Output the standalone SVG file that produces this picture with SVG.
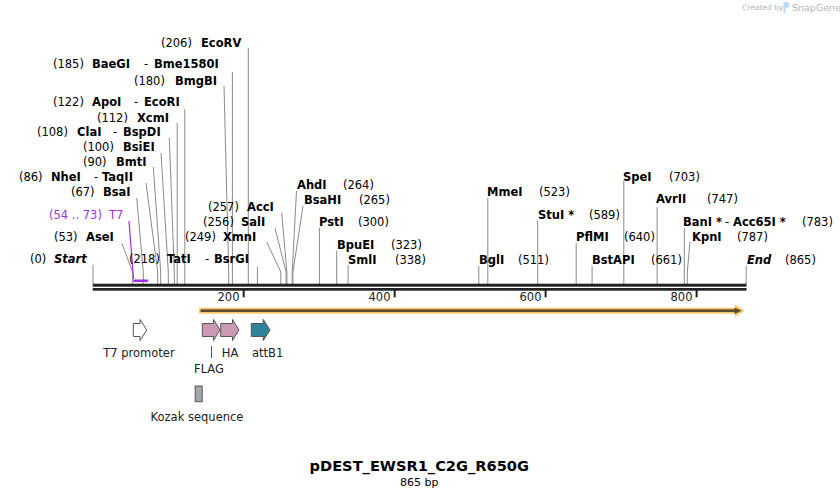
<svg xmlns="http://www.w3.org/2000/svg" width="840" height="497" viewBox="0 0 840 497">
<style>
  text { font-family: "DejaVu Sans", Verdana, sans-serif; font-size: 11.5px; fill: #000; }
  .n { font-weight: bold; }
  .bi { font-weight: bold; font-style: italic; }
  .t7 { fill: #a02ff0; }
  .ft { fill: #222; }
  .tick { fill: #222; }
  .cl { fill: none; stroke: #8a8a8a; stroke-width: 1; }
  .feat { stroke: #555; stroke-width: 1; }
  .wm { fill: #b4b4b4; }
</style>
<rect width="840" height="497" fill="#fff"/>

<!-- watermark -->
<g id="watermark">
  <text class="wm" x="742" y="10" style="font-size:7.5px">Created by</text>
  <path d="M783.5,2 h3 a3,3 0 0 1 0,6 h-1 v5 h-2 z" fill="#b9dcf2"/>
  <text class="wm" x="792" y="11" style="font-size:9.5px">SnapGene</text>
</g>

<!-- connectors -->
<g id="connectors">
  <path class="cl" d="M248.3,48 V284"/>
  <path class="cl" d="M232.4,72 V284"/>
  <path class="cl" d="M224,86 L228.7,272 V284"/>
  <path class="cl" d="M184.8,109 V284"/>
  <path class="cl" d="M177.2,123 V284"/>
  <path class="cl" d="M169.3,138 L174.3,272 V284"/>
  <path class="cl" d="M161,153 L168.3,272 V284"/>
  <path class="cl" d="M153.3,167 L160.7,272 V284"/>
  <path class="cl" d="M146,183 L157.7,272 V284"/>
  <path class="cl" d="M136.7,198 L143.3,272 V284"/>
  <path class="cl" d="M121.7,243 L132.7,272 V284"/>
  <path class="cl" d="M93,265 V284"/>
  <path class="cl" d="M257.4,266.5 V284"/>
  <path class="cl" d="M266.7,242 L280.8,272 V284"/>
  <path class="cl" d="M275,228 L286.1,272 V284"/>
  <path class="cl" d="M281.7,213 L286.9,272 V284"/>
  <path class="cl" d="M296.5,191 L292.2,272 V284"/>
  <path class="cl" d="M303,206 L292.9,272 V284"/>
  <path class="cl" d="M319.4,228 V284"/>
  <path class="cl" d="M336.7,251 V284"/>
  <path class="cl" d="M348.1,265 V284"/>
  <path class="cl" d="M478.8,266 V284"/>
  <path class="cl" d="M487.8,198 V284"/>
  <path class="cl" d="M537.7,221 V284"/>
  <path class="cl" d="M576.2,243 V284"/>
  <path class="cl" d="M592.1,266 V284"/>
  <path class="cl" d="M623.8,181 V284"/>
  <path class="cl" d="M657.1,207 V284"/>
  <path class="cl" d="M684.3,228 V284"/>
  <path class="cl" d="M690,242 L687.3,272 V284"/>
  <path class="cl" d="M746.2,266 V284"/>
  <!-- T7 primer connector -->
  <path d="M129,221 L133.5,279" fill="none" stroke="#a02ff0" stroke-width="1.2"/>
</g>

<!-- backbone -->
<g id="backbone">
  <rect x="92.7" y="283.7" width="653.8" height="3" fill="#222"/>
  <rect x="92.7" y="288" width="653.8" height="2.7" fill="#222"/>
  <rect x="242.7" y="289" width="2" height="8.3" fill="#222"/>
  <rect x="393.7" y="289" width="2" height="8.3" fill="#222"/>
  <rect x="544.6" y="289" width="2" height="8.3" fill="#222"/>
  <rect x="695.6" y="289" width="2" height="8.3" fill="#222"/>
  <text class="tick" x="239.5" y="301" text-anchor="end">200</text>
  <text class="tick" x="390.5" y="301" text-anchor="end">400</text>
  <text class="tick" x="541.5" y="301" text-anchor="end">600</text>
  <text class="tick" x="692.5" y="301" text-anchor="end">800</text>
</g>

<!-- T7 primer -->
<g id="primer-T7">
  <rect x="133.3" y="279.5" width="14.6" height="2.5" fill="#a02ff0"/>
  <text class="t7" x="49" y="219">(54 .. 73)</text>
  <text class="t7" x="109" y="219">T7</text>
</g>

<!-- ORF arrow -->
<g id="orf">
  <path d="M199,307.7 H735 V304.3 L744.5,310.7 L735,317.1 V313.7 H199 Z" fill="#f8c870"/>
  <rect x="200.5" y="309.4" width="535" height="2.6" fill="#5a4a2e"/>
  <path d="M734.5,307.4 L741.5,310.7 L734.5,314 Z" fill="#5a4a2e"/>
</g>

<!-- site labels -->
<g id="site-EcoRV"><text x="161" y="47">(206)</text><text class="n" x="201" y="47">EcoRV</text></g>
<g id="site-BaeGI"><text x="53" y="68">(185)</text><text class="n" x="92" y="68">BaeGI</text><text x="144" y="68">-</text><text class="n" x="154" y="68">Bme1580I</text></g>
<g id="site-BmgBI"><text x="134" y="85">(180)</text><text class="n" x="175" y="85">BmgBI</text></g>
<g id="site-ApoI"><text x="53" y="106">(122)</text><text class="n" x="92" y="106">ApoI</text><text x="134" y="106">-</text><text class="n" x="144" y="106">EcoRI</text></g>
<g id="site-XcmI"><text x="97" y="122">(112)</text><text class="n" x="137" y="122">XcmI</text></g>
<g id="site-ClaI"><text x="37" y="136">(108)</text><text class="n" x="77" y="136">ClaI</text><text x="113" y="136">-</text><text class="n" x="123" y="136">BspDI</text></g>
<g id="site-BsiEI"><text x="83" y="151">(100)</text><text class="n" x="123" y="151">BsiEI</text></g>
<g id="site-BmtI"><text x="83" y="166">(90)</text><text class="n" x="116" y="166">BmtI</text></g>
<g id="site-NheI"><text x="19" y="181">(86)</text><text class="n" x="51" y="181">NheI</text><text x="94" y="181">-</text><text class="n" x="102" y="181">TaqII</text></g>
<g id="site-BsaI"><text x="71" y="196">(67)</text><text class="n" x="103" y="196">BsaI</text></g>
<g id="site-AseI"><text x="54" y="241">(53)</text><text class="n" x="86" y="241">AseI</text></g>
<g id="site-Start"><text x="30" y="263">(0)</text><text class="bi" x="54" y="263">Start</text></g>
<g id="site-TatI"><text x="129" y="263">(218)</text><text class="n" x="167" y="263">TatI</text><text x="205" y="263">-</text><text class="n" x="214" y="263">BsrGI</text></g>
<g id="site-AccI"><text x="208" y="211">(257)</text><text class="n" x="247" y="211">AccI</text></g>
<g id="site-SalI"><text x="203" y="226">(256)</text><text class="n" x="241" y="226">SalI</text></g>
<g id="site-XmnI"><text x="185" y="241">(249)</text><text class="n" x="223" y="241">XmnI</text></g>
<g id="site-AhdI"><text class="n" x="297" y="189">AhdI</text><text x="343" y="189">(264)</text></g>
<g id="site-BsaHI"><text class="n" x="304" y="204">BsaHI</text><text x="359" y="204">(265)</text></g>
<g id="site-PstI"><text class="n" x="319" y="226">PstI</text><text x="358" y="226">(300)</text></g>
<g id="site-BpuEI"><text class="n" x="337" y="249">BpuEI</text><text x="391" y="249">(323)</text></g>
<g id="site-SmlI"><text class="n" x="348" y="264">SmlI</text><text x="395" y="264">(338)</text></g>
<g id="site-BglI"><text class="n" x="479" y="264">BglI</text><text x="518" y="264">(511)</text></g>
<g id="site-MmeI"><text class="n" x="487" y="196">MmeI</text><text x="539" y="196">(523)</text></g>
<g id="site-StuI"><text class="n" x="538" y="219">StuI *</text><text x="589" y="219">(589)</text></g>
<g id="site-PflMI"><text class="n" x="576" y="241">PflMI</text><text x="624" y="241">(640)</text></g>
<g id="site-BstAPI"><text class="n" x="592" y="264">BstAPI</text><text x="651" y="264">(661)</text></g>
<g id="site-SpeI"><text class="n" x="623" y="181">SpeI</text><text x="669" y="181">(703)</text></g>
<g id="site-AvrII"><text class="n" x="656" y="203">AvrII</text><text x="707" y="203">(747)</text></g>
<g id="site-BanI"><text class="n" x="683" y="226">BanI *</text><text x="725" y="226">-</text><text class="n" x="733" y="226">Acc65I *</text><text x="802" y="226">(783)</text></g>
<g id="site-KpnI"><text class="n" x="692" y="241">KpnI</text><text x="737" y="241">(787)</text></g>
<g id="site-End"><text class="bi" x="747" y="264">End</text><text x="785" y="264">(865)</text></g>

<!-- features -->
<g id="feature-T7-promoter">
  <path class="feat" d="M133.3,323.5 H140 V319.5 L146.7,330 L140,340.5 V336.5 H133.3 Z" fill="#fff" stroke="#888"/>
  <text class="ft" x="139" y="357" text-anchor="middle">T7 promoter</text>
</g>
<g id="feature-FLAG">
  <path class="feat" d="M202.3,323.5 H213.5 V319.5 L220,330 L213.5,340.5 V336.5 H202.3 Z" fill="#cc99b4"/>
  <path d="M211.5,346 V358" stroke="#555" stroke-width="1"/>
  <text class="ft" x="209" y="373" text-anchor="middle">FLAG</text>
</g>
<g id="feature-HA">
  <path class="feat" d="M220.7,323.5 H232.5 V319.5 L239,330 L232.5,340.5 V336.5 H220.7 Z" fill="#cc99b4"/>
  <text class="ft" x="230" y="357" text-anchor="middle">HA</text>
</g>
<g id="feature-attB1">
  <path class="feat" d="M251.3,323.5 H263.3 V319.5 L270,330 L263.3,340.5 V336.5 H251.3 Z" fill="#31839c"/>
  <text class="ft" x="252" y="357">attB1</text>
</g>
<g id="feature-Kozak">
  <rect class="feat" x="195.2" y="386" width="7" height="15.7" fill="#a3a7ad"/>
  <text class="ft" x="197" y="421" text-anchor="middle">Kozak sequence</text>
</g>

<!-- title -->
<g id="title">
  <text x="419.3" y="471" text-anchor="middle" style="font-size:14.6px;font-weight:bold">pDEST_EWSR1_C2G_R650G</text>
  <text x="419.3" y="485.5" text-anchor="middle" style="font-size:11px">865 bp</text>
</g>
</svg>
